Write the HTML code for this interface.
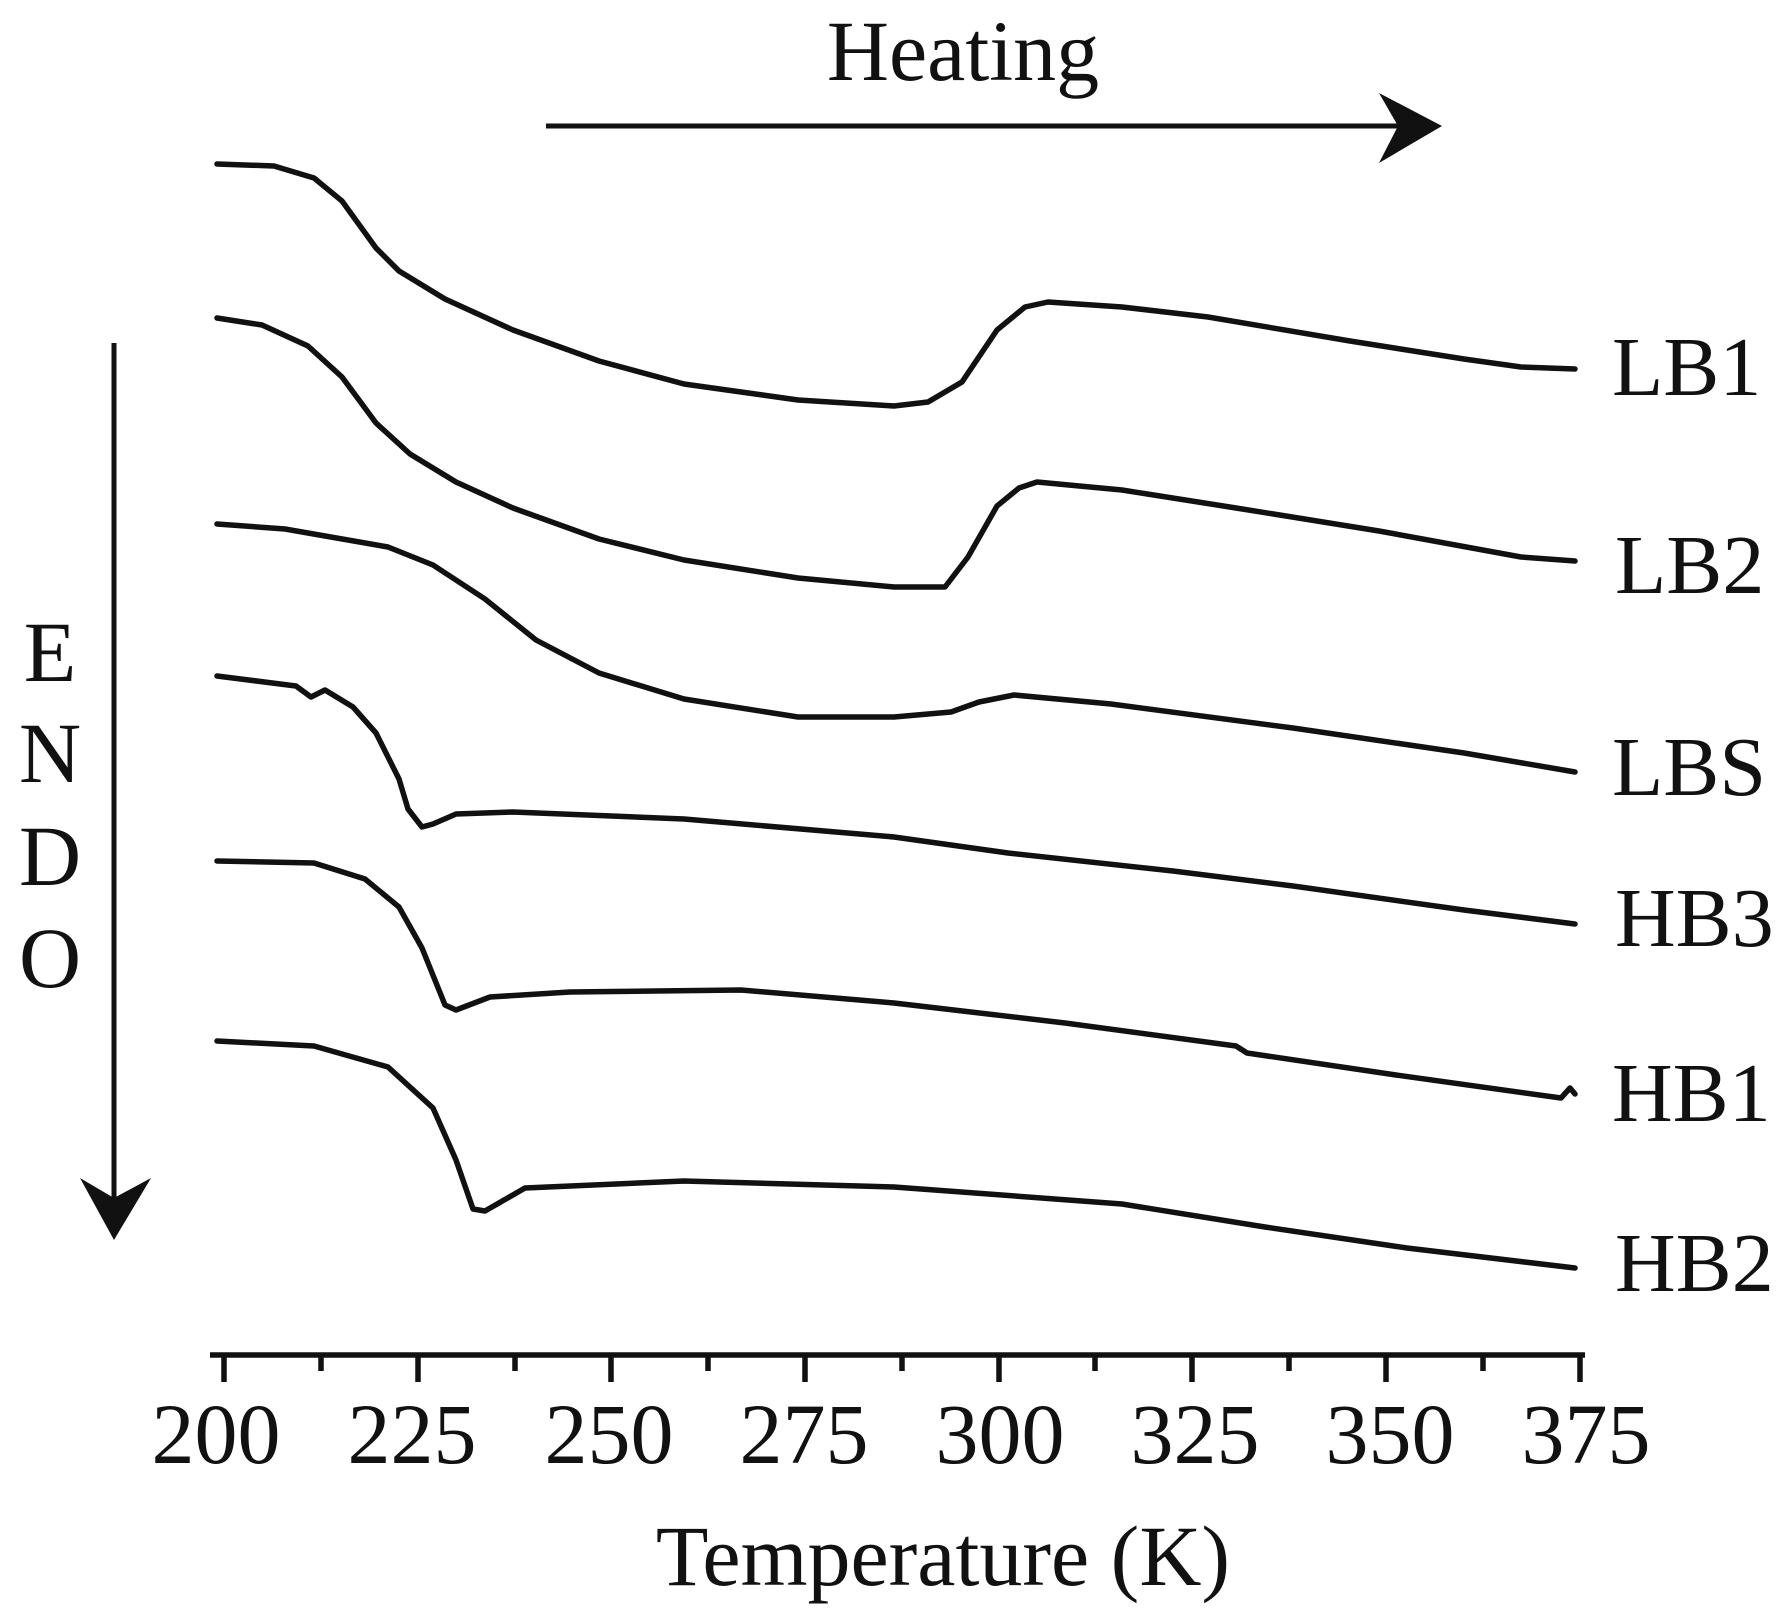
<!DOCTYPE html>
<html><head><meta charset="utf-8"><style>
html,body{margin:0;padding:0;background:#fff;}
svg{display:block;}
text{font-family:"Liberation Serif",serif;fill:#111;}
</style></head><body>
<svg width="1788" height="1618" viewBox="0 0 1788 1618" xmlns="http://www.w3.org/2000/svg">
<g fill="none" stroke="#111" stroke-width="5.5" stroke-linejoin="round" stroke-linecap="round">
<polyline points="217,164 274,166 314,178 342,201 376,248 399,271 445,299 513,330 599,361 684,384 798,400 894,406 928,402 962,382 997,330 1025,307 1048,302 1122,307 1208,317 1350,341 1464,359 1521,367 1575,369"/>
<polyline points="217,318 262,325 308,346 342,377 376,423 410,454 456,482 513,508 599,539 684,560 798,578 894,587 945,587 968,557 997,506 1019,488 1037,482 1122,490 1236,508 1379,531 1521,557 1575,561"/>
<polyline points="217,524 285,529 388,547 433,565 485,599 536,640 599,673 684,699 798,717 894,717 951,712 979,702 1014,695 1111,704 1293,728 1464,753 1575,772"/>
<polyline points="217,676 296,686 311,697 325,690 353,707 376,733 399,779 408,809 422,827 433,824 456,814 513,812 684,819 894,837 1008,853 1173,871 1293,886 1464,910 1575,924"/>
<polyline points="217,861 314,863 365,879 399,907 422,948 445,1005 456,1010 490,997 570,992 741,990 894,1003 1065,1023 1236,1046 1247,1053 1396,1075 1561,1098 1570,1088 1575,1094"/>
<polyline points="217,1041 314,1046 388,1067 433,1108 456,1160 473,1209 485,1211 525,1188 684,1181 894,1187 1122,1204 1265,1227 1407,1248 1575,1268"/>
</g>
<g stroke="#111" stroke-width="5.5">
<line x1="210" y1="1355" x2="1585" y2="1355"/>
<line x1="224" y1="1355" x2="224" y2="1382"/>
<line x1="418" y1="1355" x2="418" y2="1382"/>
<line x1="611" y1="1355" x2="611" y2="1382"/>
<line x1="805" y1="1355" x2="805" y2="1382"/>
<line x1="999" y1="1355" x2="999" y2="1382"/>
<line x1="1192" y1="1355" x2="1192" y2="1382"/>
<line x1="1386" y1="1355" x2="1386" y2="1382"/>
<line x1="1580" y1="1355" x2="1580" y2="1382"/>
<line x1="321" y1="1355" x2="321" y2="1371"/>
<line x1="515" y1="1355" x2="515" y2="1371"/>
<line x1="708" y1="1355" x2="708" y2="1371"/>
<line x1="902" y1="1355" x2="902" y2="1371"/>
<line x1="1095" y1="1355" x2="1095" y2="1371"/>
<line x1="1289" y1="1355" x2="1289" y2="1371"/>
<line x1="1483" y1="1355" x2="1483" y2="1371"/>
</g>
<g font-size="86" text-anchor="middle">
<text x="216" y="1463">200</text>
<text x="412" y="1463">225</text>
<text x="609" y="1463">250</text>
<text x="804" y="1463">275</text>
<text x="1000" y="1463">300</text>
<text x="1195" y="1463">325</text>
<text x="1390" y="1463">350</text>
<text x="1586" y="1463">375</text>
<text x="943" y="1585">Temperature (K)</text>
<text x="963" y="80">Heating</text>
<text x="50" y="681">E</text>
<text x="50" y="782">N</text>
<text x="50" y="885">D</text>
<text x="50" y="987">O</text>
</g>
<g font-size="84">
<text x="1612" y="395">LB1</text>
<text x="1615" y="593">LB2</text>
<text x="1612" y="795">LBS</text>
<text x="1615" y="946">HB3</text>
<text x="1612" y="1121">HB1</text>
<text x="1615" y="1291">HB2</text>
</g>
<line x1="546" y1="126" x2="1400" y2="126" stroke="#111" stroke-width="5"/>
<polygon points="1379,93 1442,126 1379,163 1398,126" fill="#111"/>
<line x1="114" y1="343" x2="114" y2="1200" stroke="#111" stroke-width="5"/>
<polygon points="80,1178 114,1240 151,1178 114,1198" fill="#111"/>
</svg>
</body></html>
